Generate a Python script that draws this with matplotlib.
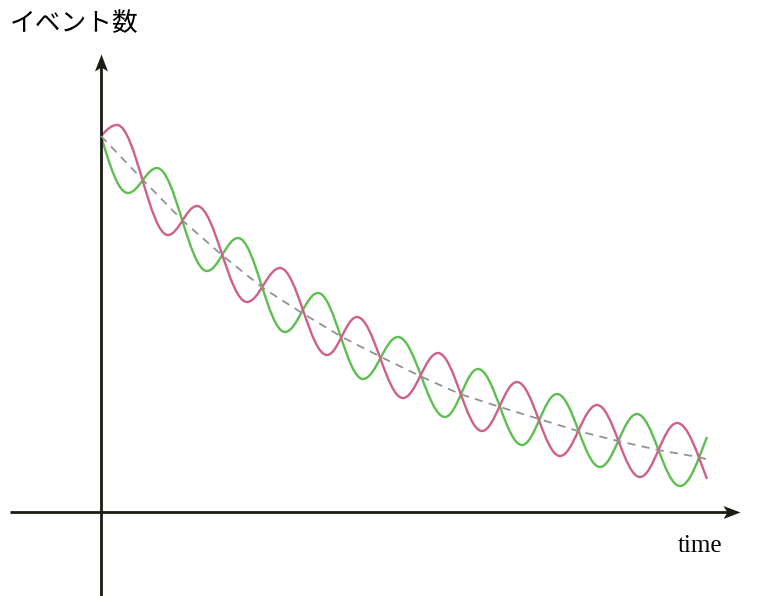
import matplotlib.pyplot as plt
from matplotlib.path import Path
from matplotlib.patches import PathPatch

plt.rcParams['font.family'] = ['Noto Sans CJK JP', 'DejaVu Sans']

# values (time, event count), arbitrary units
# peaks / troughs of each wave, plus start and end points
pink_t = [0, 1.6, 6.7, 9.6, 14.6, 17.9, 22.6, 25.6, 30.2, 33.7, 38.1, 41.6, 45.9, 49.6, 53.9, 57.6, 60.6]
pink_n = [94, 96.75, 69.25, 76.5, 52.5, 61, 39.25, 48.75, 28.5, 39.75, 20.25, 32.5, 14, 26.75, 8.75, 22.25, 8.25]

green_t = [0, 2.7, 5.6, 10.6, 13.7, 18.4, 21.7, 26.2, 29.7, 34.4, 37.7, 42.1, 45.6, 49.9, 53.6, 57.9, 60.6]
green_n = [94, 79.75, 86, 60.25, 68.5, 45, 54.75, 33.25, 43.75, 23.75, 35.75, 16.75, 29.5, 11.25, 24.5, 6.5, 18.75]

# dashed decay line (where the two waves cross)
trend_t = [0, 4.1, 8.1, 12.2, 16.2, 20.1, 24.1, 28.0, 32.1, 35.9, 39.9, 43.8, 47.7, 51.7, 55.7, 59.7, 60.5]
trend_n = [94, 83.25, 73, 64, 56, 49.75, 43.75, 38.75, 33.75, 29.5, 26.25, 23.25, 20.25, 17.75, 15.5, 13.75, 13.25]

x_lim = (-10.1, 65.7)
y_lim = (-21, 128)
axis_col = '#1c1c14'


def wave_path(ts, ns):
    # bezier through the extrema, flat tangent at each peak / trough
    pts = list(zip(ts, ns))
    verts = [pts[0]]
    codes = [Path.MOVETO]
    last = len(pts) - 1
    for i in range(last):
        (x0, y0), (x1, y1) = pts[i], pts[i + 1]
        dx = x1 - x0
        if i == 0:
            s = 1.57 * (y1 - y0) / dx
            c1 = (x0 + dx / 3, y0 + s * dx / 3)
        else:
            c1 = (x0 + 0.36 * dx, y0)
        if i + 1 == last:
            s = 1.4 * (y1 - y0) / dx
            c2 = (x1 - dx / 3, y1 - s * dx / 3)
        else:
            c2 = (x1 - 0.36 * dx, y1)
        verts += [c1, c2, (x1, y1)]
        codes += [Path.CURVE4] * 3
    return Path(verts, codes)


fig = plt.figure(figsize=(7.58, 5.96), dpi=100)
ax = fig.add_axes([0, 0, 1, 1])
ax.set_xlim(*x_lim)
ax.set_ylim(*y_lim)
ax.axis('off')

# axes with stealth arrow heads
head_r = Path([(0, 0), (-17, 6.5), (-13, 0), (-17, -6.5), (0, 0)],
              [Path.MOVETO, Path.LINETO, Path.LINETO, Path.LINETO, Path.CLOSEPOLY])
head_u = Path([(0, 0), (6.5, -17), (0, -13), (-6.5, -17), (0, 0)],
              [Path.MOVETO, Path.LINETO, Path.LINETO, Path.LINETO, Path.CLOSEPOLY])

ax.plot([-9.1, 63.4], [0, 0], color=axis_col, lw=2.0, solid_capstyle='butt')
ax.plot([0, 0], [y_lim[0], 113.5], color=axis_col, lw=2.0, solid_capstyle='butt')
ax.plot([63.9], [0], marker=head_r, ms=24.5, color=axis_col, mec='none')
ax.plot([0], [114.5], marker=head_u, ms=24.5, color=axis_col, mec='none')

ax.plot(trend_t, trend_n, color='#929292', lw=1.3, ls=(0, (4.5, 3.5)))
ax.add_patch(PathPatch(wave_path(green_t, green_n), fc='none', ec='#5cbf4f', lw=1.7))
ax.add_patch(PathPatch(wave_path(pink_t, pink_n), fc='none', ec='#cf5f8b', lw=1.7))

fig.text(10 / 758, 1 - 24 / 596, 'イベント数', ha='left', va='center', fontsize=18.5)
fig.text(700 / 758, 1 - 546 / 596, 'time', ha='center', va='center', fontsize=18,
         family='Liberation Serif')

fig.savefig('out.png', dpi=100)
